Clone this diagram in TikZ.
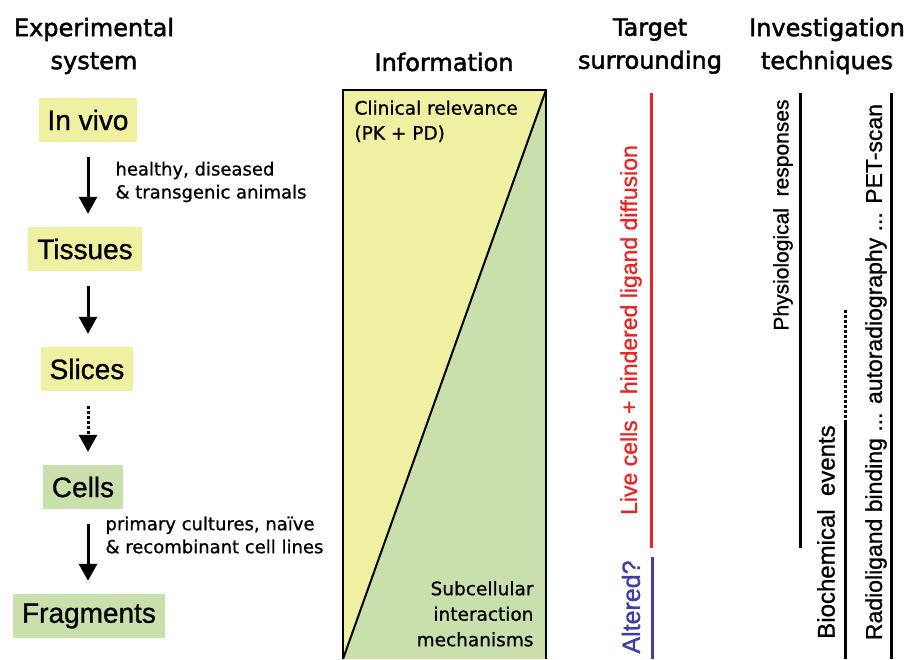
\documentclass[tikz,border=0pt]{standalone}
\usepackage{fontspec}
\setmainfont[FakeBold=1]{DejaVu Sans}
\newfontfamily\headfont[FakeBold=1.8]{DejaVu Sans}
\newfontfamily\helv[FakeBold=1]{Liberation Sans}
\usetikzlibrary{arrows.meta}
\usetikzlibrary{positioning}
\definecolor{stageYellow}{RGB}{240,240,162}
\definecolor{stageGreen}{RGB}{202,224,172}
\definecolor{liveRed}{RGB}{228,38,38}
\definecolor{alterBlue}{RGB}{62,62,164}

\begin{document}
\begin{tikzpicture}[x=1pt,y=-1pt,
	head/.style={align=center, font=\headfont\fontsize{24}{33}\selectfont},
	stage/.style={font=\helv\fontsize{28}{30}\selectfont, inner xsep=9pt, inner ysep=0pt, minimum height=44pt},
	note/.style={align=left, anchor=west, font=\fontsize{18}{23}\selectfont},
	flow/.style={line width=3pt, -{Triangle[width=18pt,length=17pt]}, shorten <=15pt, shorten >=13pt},
	vtext/.style={rotate=90, font=\helv\fontsize{23}{24}\selectfont}]
	\useasboundingbox (0,0) rectangle (916,659);
	% column heads
	\node[head] (hExp) at (94,46) {Experimental\\system};
	\node[head] (hInfo) at (444,62) {Information};
	\node[head] (hTarget) at (650,46) {Target\\surrounding};
	\node[head] (hTech) at (827,46) {Investigation\\techniques};
	% experimental systems
	\node[stage, fill=stageYellow] (vivo) at (88,120) {In vivo};
	\node[stage, fill=stageYellow] (tissues) at (85,249) {Tissues};
	\node[stage, fill=stageYellow] (slices) at (87,369) {Slices};
	\node[stage, fill=stageGreen] (cells) at (83,487) {Cells};
	\node[stage, fill=stageGreen] (fragments) at (89,616) {Fragments};
	% arrows between them
	\draw[flow] (vivo.south) -- (vivo.south |- tissues.north);
	\draw[flow] (vivo.south |- tissues.south) -- (vivo.south |- slices.north);
	\draw[flow, dotted] (vivo.south |- slices.south) -- (vivo.south |- cells.north);
	\draw[flow] (vivo.south |- cells.south) -- (vivo.south |- fragments.north);
	\node[note] (animals) at (112,182) {healthy, diseased\\\& transgenic animals};
	\node[note] (lines) at (102,535) {primary cultures, na\"ive\\\& recombinant cell lines};
	% information box, split along the diagonal
	\coordinate (infoNW) at (343,90);
	\coordinate (infoNE) at (546,90);
	\coordinate (infoSW) at (343,659);
	\coordinate (infoSE) at (546,659);
	\fill[stageYellow] (infoNW) -- (infoNE) -- (infoSW) -- cycle;
	\fill[stageGreen] (infoNE) -- (infoSE) -- (infoSW) -- cycle;
	\draw[line width=2pt] (infoNE) -- (infoSW);
	\draw[line width=2pt] (infoSW) -- (infoNW) -- (infoNE) -- (infoSE);
	\node[note, anchor=north west, font=\fontsize{18.5}{25}\selectfont] (clinical) at (351,97) {Clinical relevance\\(PK + PD)};
	\node[note, anchor=south east, align=right, font=\fontsize{18.5}{25.5}\selectfont] (subcell) at (537,650) {Subcellular\\interaction\\mechanisms};
	% target surrounding
	\draw[liveRed, line width=3pt] (651,93) -- (651,548);
	\draw[alterBlue, line width=3pt] (652,557) -- (652,659);
	\node[vtext, liveRed] (live) at (631,330) {Live cells + hindered ligand diffusion};
	\node[vtext, alterBlue, font=\helv\fontsize{25}{26}\selectfont] (altered) at (631,607) {Altered?};
	% investigation techniques
	\draw[line width=3pt] (800,93) -- (800,548);
	\draw[line width=3pt, dotted] (845,310) -- (845,420);
	\draw[line width=3pt] (845,420) -- (845,659);
	\draw[line width=3pt] (891,93) -- (891,659);
	\node[vtext, font=\helv\fontsize{21}{24}\selectfont] (physio) at (783,215) {Physiological\ \ responses};
	\node[vtext, font=\helv\fontsize{24}{26}\selectfont] (biochem) at (826,532) {Biochemical\ \ events};
	\node[vtext] (radio) at (876,372) {Radioligand binding ... autoradiography ... PET-scan};
\end{tikzpicture}
\end{document}
